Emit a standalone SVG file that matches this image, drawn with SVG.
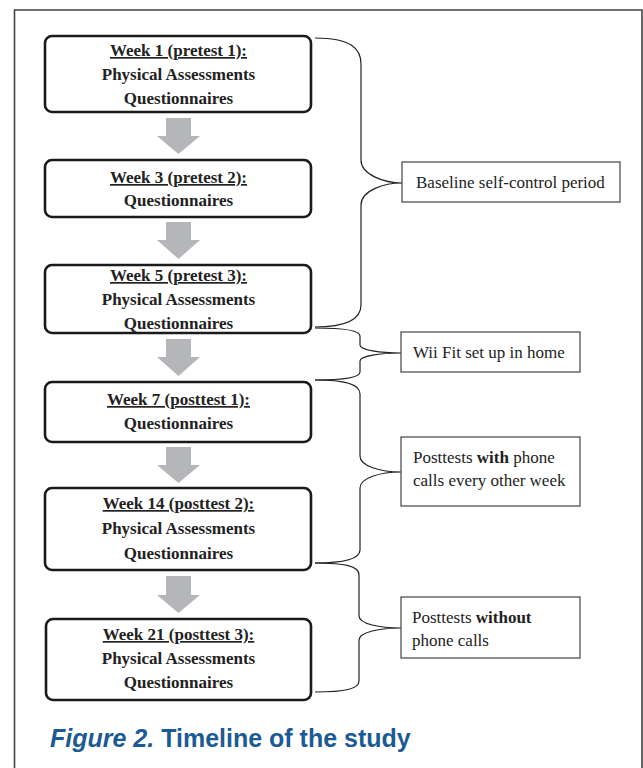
<svg xmlns="http://www.w3.org/2000/svg" width="643" height="768" viewBox="0 0 643 768">
<style>
.box{fill:#fff;stroke:#1a1a1a;stroke-width:2.6}
.lbl{fill:#fff;stroke:#444;stroke-width:1.2}
.b{font-family:"Liberation Serif","Times New Roman",serif;font-weight:bold;font-size:17px;fill:#222;text-anchor:middle}
.u{text-decoration:underline}
.r{font-family:"Liberation Serif","Times New Roman",serif;font-size:17px;fill:#222}
.arr{fill:#b5b6b9}
.br{fill:none;stroke:#222;stroke-width:1.2}
.cap{font-family:"Liberation Sans",Arial,sans-serif;font-weight:bold;font-size:25px;fill:#1c5a96}
</style>
<rect width="643" height="768" fill="#fff"/>
<path d="M14.5,768 V10 H642 V768" fill="none" stroke="#444" stroke-width="1.6"/>

<g id="connectors">
<path class="arr" d="M166,118 H191 V136 H200 L178.5,154 L157,136 H166 Z"/>
<path class="arr" d="M166,222 H191 V240 H200 L178.5,259 L157,240 H166 Z"/>
<path class="arr" d="M166,339 H191 V357 H200 L178.5,376 L157,357 H166 Z"/>
<path class="arr" d="M166,447 H191 V465 H200 L178.5,483 L157,465 H166 Z"/>
<path class="arr" d="M166,576 H191 V595 H200 L178.5,613 L157,595 H166 Z"/>
<path class="br" d="M315,38 C350,38 361,48 361,64 V160 C361,175 385,183 402,183 C385,183 361,190 361,205 V305 C361,318 350,327 315,327"/>
<path class="br" d="M315,328 C345,328 360,331 360,336 V345 C360,350 380,353 401,353 C380,353 360,356 360,361 V372 C360,377 345,380 315,380"/>
<path class="br" d="M315,380 C345,380 360,384 360,394 V456 C360,466 380,472 401,472 C380,472 360,478 360,488 V550 C360,559 345,563 315,563"/>
<path class="br" d="M315,563 C345,563 359,566 359,575 V616 C359,624 380,628 401,628 C380,628 359,632 359,640 V681 C359,689 345,692 315,692"/>
</g>

<g id="week1">
<rect class="box" x="45" y="36" width="266" height="76" rx="7"/>
<text class="b u" x="178.5" y="56">Week 1 (pretest 1):</text>
<text class="b" x="178.5" y="80">Physical Assessments</text>
<text class="b" x="178.5" y="104">Questionnaires</text>
</g>
<g id="week3">
<rect class="box" x="45" y="160" width="266" height="57" rx="7"/>
<text class="b u" x="178.5" y="183">Week 3 (pretest 2):</text>
<text class="b" x="178.5" y="206">Questionnaires</text>
</g>
<g id="week5">
<rect class="box" x="45" y="265" width="266" height="68" rx="7"/>
<text class="b u" x="178.5" y="281">Week 5 (pretest 3):</text>
<text class="b" x="178.5" y="305">Physical Assessments</text>
<text class="b" x="178.5" y="329">Questionnaires</text>
</g>
<g id="week7">
<rect class="box" x="45" y="382" width="266" height="60" rx="7"/>
<text class="b u" x="178.5" y="405">Week 7 (posttest 1):</text>
<text class="b" x="178.5" y="429">Questionnaires</text>
</g>
<g id="week14">
<rect class="box" x="45" y="488" width="266" height="82" rx="7"/>
<text class="b u" x="178.5" y="509">Week 14 (posttest 2):</text>
<text class="b" x="178.5" y="534">Physical Assessments</text>
<text class="b" x="178.5" y="559">Questionnaires</text>
</g>
<g id="week21">
<rect class="box" x="46" y="619" width="265" height="81" rx="7"/>
<text class="b u" x="178.5" y="640">Week 21 (posttest 3):</text>
<text class="b" x="178.5" y="664">Physical Assessments</text>
<text class="b" x="178.5" y="688">Questionnaires</text>
</g>

<g id="baseline">
<rect class="lbl" x="402" y="162" width="218" height="40"/>
<text class="r" x="416" y="188">Baseline self-control period</text>
</g>
<g id="wiifit">
<rect class="lbl" x="401" y="332" width="179" height="40"/>
<text class="r" x="413" y="358">Wii Fit set up in home</text>
</g>
<g id="with">
<rect class="lbl" x="401" y="437" width="179" height="69"/>
<text class="r" x="413" y="463">Posttests <tspan font-weight="bold">with</tspan> phone</text>
<text class="r" x="413" y="486">calls every other week</text>
</g>
<g id="without">
<rect class="lbl" x="401" y="597" width="179" height="61"/>
<text class="r" x="412" y="623">Posttests <tspan font-weight="bold">without</tspan></text>
<text class="r" x="412" y="646">phone calls</text>
</g>

<text class="cap" x="50" y="747"><tspan font-style="italic">Figure 2.</tspan> Timeline of the study</text>
</svg>
